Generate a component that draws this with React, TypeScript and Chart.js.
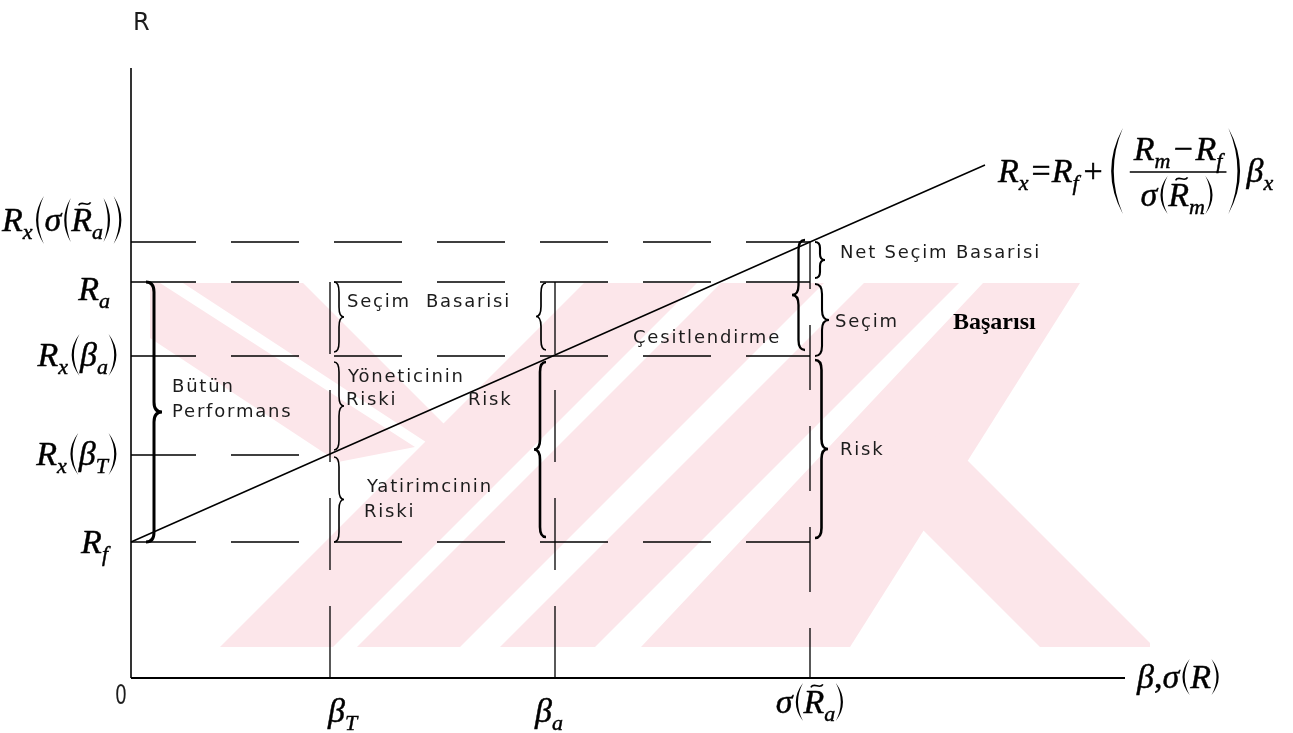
import { useEffect, useRef } from "react";
import { Chart, registerables } from "chart.js";

Chart.register(...registerables);

// Risk levels on the horizontal axis: β_T, β_a, σ(R̃_a)
const riskLevels = [1.99, 4.24, 6.79];
// Return levels on the vertical axis: R_f, R_x(β_T), R_x(β_a), R_a, R_x(σ(R̃_a))
const returnLevels = [1.36, 2.23, 3.22, 3.96, 4.36];
// Market line R_x = R_f + ((R_m − R_f)/σ(R̃_m))·β_x
const smlRisk = [0, 1.99, 4.24, 6.79, 8.54];
const smlReturn = [1.36, 2.24, 3.23, 4.36, 5.13];
// Each return level is dashed across to this risk level (index into riskLevels)
const returnGuideEnds = [2, 0, 2, 2, 2];
// Each risk level is dashed up to this return level (index into returnLevels)
const riskGuideTops = [3, 3, 4];
const X_MAX = 9.94;
const Y_MAX = 6.1;

// ---- styles -------------------------------------------------------------
const INK = "#000";
const TEXT = "#1c1c1c";
const PINK = "#fce6ea";
const H_DASH = { dash: [68, 35], offset: 3 };
const V_DASH = [
  { dash: [72, 36], offset: 0, fromTop: true },
  { dash: [72, 36], offset: 0, fromTop: true },
  { dash: [65, 36], offset: 15, fromTop: false },
];
const MATH = 34;
const MATH_SUB = 22;

// Faint emblem behind the drawing (canvas pixels)
const EMBLEM_CLIP = [150, 283, 1000, 364];
const EMBLEM = [
  [[150, 283], [160, 283], [415, 447], [338, 462], [150, 338]],
  [[183, 283], [303, 283], [445, 425], [432, 446]],
  [[220, 647], [333, 647], [697, 283], [584, 283]],
  [[357, 647], [460, 647], [824, 283], [721, 283]],
  [[500, 647], [595, 647], [959, 283], [864, 283]],
  [[641, 647], [850, 647], [1080, 283], [983, 283]],
  [[873, 480], [940, 433], [1154, 647], [1040, 647]],
];

// Braces: x where the ends sit, top/bottom return-level indices, insets (px)
const BRACES = [
  { x: 0.15, top: 3, bot: 0, in1: 0, in2: 0, dir: 1, depth: 16, lw: 3 },
  { x: 2.03, top: 3, bot: 2, in1: 0, in2: 4, dir: 1, depth: 10, lw: 1.6 },
  { x: 2.03, top: 2, bot: 1, in1: 6, in2: 5, dir: 1, depth: 10, lw: 1.6 },
  { x: 2.03, top: 1, bot: 0, in1: 2, in2: 0, dir: 1, depth: 10, lw: 1.6 },
  { x: 4.15, top: 3, bot: 2, in1: 1, in2: 6, dir: -1, depth: 10, lw: 1.7 },
  { x: 4.15, top: 2, bot: 0, in1: 6, in2: 5, dir: -1, depth: 12, lw: 2.6 },
  { x: 6.74, top: 4, bot: 2, in1: -2, in2: 6, dir: -1, depth: 13, lw: 2.3 },
  { x: 6.84, top: 4, bot: 3, in1: 0, in2: 4, dir: 1, depth: 10, lw: 2.1 },
  { x: 6.84, top: 3, bot: 2, in1: 2, in2: 0, dir: 1, depth: 14, lw: 2.1 },
  { x: 6.84, top: 2, bot: 0, in1: 4, in2: 4, dir: 1, depth: 13, lw: 2.6 },
];

// Text notes: left edge and vertical centre in chart units
const NOTES = [
  { t: "Bütün", x: 0.41, y: 2.91 },
  { t: "Performans", x: 0.41, y: 2.66 },
  { t: "Seçim  Basarisi", x: 2.16, y: 3.76 },
  { t: "Yöneticinin", x: 2.17, y: 3.01 },
  { t: "Riski", x: 2.15, y: 2.78 },
  { t: "Risk", x: 3.37, y: 2.78 },
  { t: "Yatirimcinin", x: 2.36, y: 1.91 },
  { t: "Riski", x: 2.33, y: 1.66 },
  { t: "Çesitlendirme", x: 5.02, y: 3.4 },
  { t: "Net Seçim Basarisi", x: 7.09, y: 4.25 },
  { t: "Seçim", x: 7.04, y: 3.56 },
  { t: "Risk", x: 7.09, y: 2.28 },
];
const BOLD_NOTE = { t: "Başarısı", x: 8.22, y: 3.55 };

const SANS = '"DejaVu Sans ExtraLight", "DejaVu Sans"';

// ---- math typesetting helpers --------------------------------------------
type MItem = {
  t?: string;
  size?: number;
  italic?: boolean;
  sub?: boolean;
  tilde?: boolean;
  gap?: number;
  paren?: "(" | ")";
  h?: number;
  w?: number;
};
const g = (t: string, extra: MItem = {}): MItem => ({ t, size: MATH, italic: true, ...extra });
const sb = (t: string, extra: MItem = {}): MItem => ({ t, size: MATH_SUB, italic: true, sub: true, ...extra });
const up = (t: string, extra: MItem = {}): MItem => ({ t, size: MATH, italic: false, ...extra });
const P = (paren: "(" | ")", h: number, w = 10): MItem => ({ paren, h, w });

const fontOf = (it: MItem) => `${it.italic ? "italic " : ""}${it.size}px "Liberation Serif"`;

function itemWidth(ctx: CanvasRenderingContext2D, it: MItem) {
  if (it.paren) return it.w as number;
  ctx.font = fontOf(it);
  return ctx.measureText(it.t as string).width + (it.gap ?? 0);
}

function drawParen(ctx: CanvasRenderingContext2D, x: number, w: number, cy: number, h: number, kind: string, thick: number) {
  const top = cy - h / 2;
  const bot = cy + h / 2;
  ctx.beginPath();
  if (kind === "(") {
    const ex = x + w * 0.95;
    const cx = x - w * 0.35;
    ctx.moveTo(ex, top);
    ctx.quadraticCurveTo(cx, cy, ex, bot);
    ctx.quadraticCurveTo(cx + thick * 2, cy, ex, top);
  } else {
    const ex = x + w * 0.05;
    const cx = x + w * 1.35;
    ctx.moveTo(ex, top);
    ctx.quadraticCurveTo(cx, cy, ex, bot);
    ctx.quadraticCurveTo(cx - thick * 2, cy, ex, top);
  }
  ctx.fill();
}

function drawTilde(ctx: CanvasRenderingContext2D, cx: number, cy: number) {
  ctx.beginPath();
  ctx.moveTo(cx - 6, cy + 1.5);
  ctx.bezierCurveTo(cx - 3, cy - 4, cx + 3, cy + 4, cx + 6, cy - 1.5);
  ctx.lineWidth = 1.6;
  ctx.stroke();
}

function drawMath(ctx: CanvasRenderingContext2D, items: MItem[], x: number, base: number, align = "left") {
  const total = items.reduce((s, it) => s + itemWidth(ctx, it), 0);
  let cx = align === "right" ? x - total : align === "center" ? x - total / 2 : x;
  ctx.textAlign = "left";
  ctx.textBaseline = "alphabetic";
  for (const it of items) {
    const w = itemWidth(ctx, it);
    if (it.paren) {
      drawParen(ctx, cx, it.w as number, base - 11, it.h as number, it.paren, 2.2);
    } else {
      ctx.font = fontOf(it);
      const by = base + (it.sub ? 8 : 0);
      ctx.fillText(it.t as string, cx, by);
      ctx.lineWidth = 0.45;
      ctx.strokeText(it.t as string, cx, by);
      if (it.tilde) drawTilde(ctx, cx + w * 0.5 + 3, base - (it.size as number) * 0.8);
    }
    cx += w;
  }
  return cx;
}

function drawBrace(ctx: CanvasRenderingContext2D, x: number, y1: number, y2: number, dir: number, depth: number, lw: number) {
  const d = depth * dir;
  const ym = (y1 + y2) / 2;
  const r = Math.min(10, (y2 - y1) / 6);
  const sx = x + d * 0.5;
  ctx.beginPath();
  ctx.moveTo(x, y1);
  ctx.quadraticCurveTo(sx, y1, sx, y1 + r);
  ctx.lineTo(sx, ym - r);
  ctx.quadraticCurveTo(sx, ym, x + d, ym);
  ctx.quadraticCurveTo(sx, ym, sx, ym + r);
  ctx.lineTo(sx, y2 - r);
  ctx.quadraticCurveTo(sx, y2, x, y2);
  ctx.lineWidth = lw;
  ctx.stroke();
}

// Tick labels (return levels, bottom to top) and their placement
const RETURN_LABELS: MItem[][] = [
  [g("R"), sb("f")],
  [g("R"), sb("x"), P("(", 42, 12), g("β"), sb("T"), P(")", 42, 12)],
  [g("R"), sb("x"), P("(", 42, 12), g("β"), sb("a"), P(")", 42, 12)],
  [g("R"), sb("a")],
  [g("R"), sb("x"), P("(", 48, 12), g("σ"), P("(", 44, 10), g("R", { tilde: true }), sb("a"), P(")", 44, 10), P(")", 48, 12)],
];
const RETURN_LABEL_RIGHT = [108, 120, 120, 110, 125];
const RETURN_LABEL_SHIFT = [11, 10, 10, 18, -11];
const RISK_LABELS: MItem[][] = [
  [g("β"), sb("T")],
  [g("β"), sb("a")],
  [g("σ"), P("(", 38, 11), g("R", { tilde: true }), sb("a"), P(")", 38, 11)],
];

const diagramPlugin = {
  id: "diagramDecor",
  beforeDatasetsDraw(chart: any) {
    const ctx: CanvasRenderingContext2D = chart.ctx;
    ctx.save();
    ctx.beginPath();
    ctx.rect(EMBLEM_CLIP[0], EMBLEM_CLIP[1], EMBLEM_CLIP[2], EMBLEM_CLIP[3]);
    ctx.clip();
    ctx.fillStyle = PINK;
    for (const poly of EMBLEM) {
      ctx.beginPath();
      poly.forEach(([px, py], i) => (i ? ctx.lineTo(px, py) : ctx.moveTo(px, py)));
      ctx.closePath();
      ctx.fill();
    }
    ctx.restore();
  },
  afterDatasetsDraw(chart: any) {
    const ctx: CanvasRenderingContext2D = chart.ctx;
    const xs = chart.scales.x;
    const ys = chart.scales.y;
    const X = (v: number) => xs.getPixelForValue(v);
    const Y = (v: number) => ys.getPixelForValue(v);
    ctx.save();
    ctx.strokeStyle = INK;
    ctx.fillStyle = TEXT;

    // axes
    ctx.lineWidth = 1.6;
    ctx.beginPath();
    ctx.moveTo(X(0), Y(Y_MAX));
    ctx.lineTo(X(0), Y(0));
    ctx.stroke();
    ctx.lineWidth = 2;
    ctx.beginPath();
    ctx.moveTo(X(0), Y(0));
    ctx.lineTo(X(X_MAX), Y(0));
    ctx.stroke();

    // axis names
    ctx.fillStyle = TEXT;
    ctx.font = `24px ${SANS}`;
    ctx.textAlign = "left";
    ctx.textBaseline = "alphabetic";
    ctx.fillText("R", X(0) + 2, Y(Y_MAX) - 38);
    ctx.save();
    ctx.font = `26px ${SANS}`;
    ctx.translate(X(0) - 4, Y(0) + 26);
    ctx.scale(0.72, 1);
    ctx.textAlign = "right";
    ctx.fillText("0", 0, 0);
    ctx.restore();
    ctx.fillStyle = INK;
    drawMath(ctx, [g("β"), up(","), g("σ"), P("(", 36, 11), g("R"), P(")", 36, 11)], X(X_MAX) + 12, Y(0) + 10, "left");

    // tick labels
    returnLevels.forEach((v, i) => {
      drawMath(ctx, RETURN_LABELS[i], RETURN_LABEL_RIGHT[i], Y(v) + RETURN_LABEL_SHIFT[i], "right");
    });
    drawMath(ctx, RISK_LABELS[0], X(riskLevels[0]) - 2, Y(0) + 44, "left");
    drawMath(ctx, RISK_LABELS[1], X(riskLevels[1]) - 20, Y(0) + 44, "left");
    drawMath(ctx, RISK_LABELS[2], X(riskLevels[2]) + 1, Y(0) + 35, "center");

    // braces
    for (const b of BRACES) {
      drawBrace(ctx, X(b.x), Y(returnLevels[b.top]) + b.in1, Y(returnLevels[b.bot]) - b.in2, b.dir, b.depth, b.lw);
    }

    // notes
    ctx.fillStyle = TEXT;
    ctx.font = `18px ${SANS}`;
    (ctx as any).letterSpacing = "1.8px";
    ctx.textBaseline = "middle";
    ctx.textAlign = "left";
    for (const n of NOTES) ctx.fillText(n.t, X(n.x), Y(n.y));
    (ctx as any).letterSpacing = "0px";
    ctx.fillStyle = INK;
    ctx.font = 'bold 24px "Liberation Serif"';
    ctx.fillText(BOLD_NOTE.t, X(BOLD_NOTE.x), Y(BOLD_NOTE.y));

    // market line equation
    ctx.fillStyle = INK;
    ctx.strokeStyle = INK;
    let x = drawMath(
      ctx,
      [g("R"), sb("x", { gap: 3 }), up("=", { gap: 1 }), g("R"), sb("f", { gap: 5 }), up("+", { gap: 3 })],
      998,
      182,
      "left"
    );
    drawParen(ctx, x, 18, 171, 86, "(", 2.6);
    x += 24;
    const num = [g("R"), sb("m", { gap: 3 }), up("−", { gap: 3 }), g("R"), sb("f")];
    const den = [g("σ"), P("(", 38, 11), g("R", { tilde: true }), sb("m"), P(")", 38, 11)];
    const nw = num.reduce((s, it) => s + itemWidth(ctx, it), 0);
    const dw = den.reduce((s, it) => s + itemWidth(ctx, it), 0);
    const fw = Math.max(nw, dw) + 8;
    drawMath(ctx, num, x + fw / 2, 160, "center");
    drawMath(ctx, den, x + fw / 2, 206, "center");
    ctx.lineWidth = 1.6;
    ctx.beginPath();
    ctx.moveTo(x, 172);
    ctx.lineTo(x + fw, 172);
    ctx.stroke();
    x += fw + 1;
    drawParen(ctx, x, 18, 171, 86, ")", 2.6);
    x += 19;
    drawMath(ctx, [g("β"), sb("x")], x, 182, "left");

    ctx.restore();
  },
};

export default function App() {
  const ref = useRef<HTMLCanvasElement | null>(null);

  useEffect(() => {
    const canvas = ref.current;
    if (!canvas) return;
    const line = (data: { x: number; y: number }[], extra: any = {}) => ({
      data,
      showLine: true,
      fill: false,
      pointRadius: 0,
      borderColor: INK,
      borderWidth: 1.3,
      clip: false,
      ...extra,
    });
    const datasets: any[] = [
      line(smlRisk.map((r, i) => ({ x: r, y: smlReturn[i] })), { label: "SML", borderWidth: 1.5 }),
      ...returnLevels.map((v, i) =>
        line(
          [
            { x: 0, y: v },
            { x: riskLevels[returnGuideEnds[i]], y: v },
          ],
          { borderDash: H_DASH.dash, borderDashOffset: H_DASH.offset }
        )
      ),
      ...riskLevels.map((r, i) => {
        const top = { x: r, y: returnLevels[riskGuideTops[i]] };
        const bottom = { x: r, y: 0 };
        const s = V_DASH[i];
        return line(s.fromTop ? [top, bottom] : [bottom, top], {
          borderDash: s.dash,
          borderDashOffset: s.offset,
        });
      }),
    ];
    const chart = new Chart(canvas, {
      type: "scatter",
      data: { datasets },
      options: {
        responsive: false,
        animation: false,
        events: [],
        layout: { padding: { left: 131, right: 168, top: 68, bottom: 55 } },
        plugins: { legend: { display: false }, tooltip: { enabled: false } },
        scales: {
          x: { type: "linear", min: 0, max: X_MAX, display: false },
          y: { type: "linear", min: 0, max: Y_MAX, display: false },
        },
      },
      plugins: [diagramPlugin],
    });
    return () => chart.destroy();
  }, []);

  return (
    <div style={{ position: "absolute", left: 0, top: 0, width: 1293, height: 733, background: "#fff" }}>
      <canvas ref={ref} width={1293} height={733} style={{ display: "block" }} />
    </div>
  );
}
